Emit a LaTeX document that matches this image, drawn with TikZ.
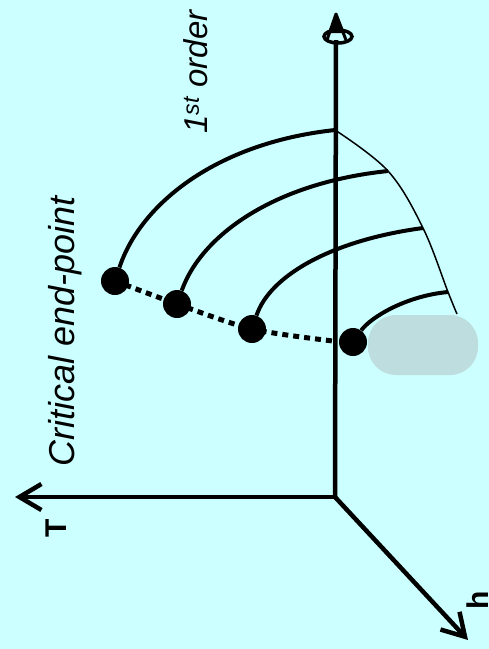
\documentclass[tikz,border=0pt]{standalone}
\usepackage{fontspec}
\setmainfont{Liberation Sans}
\usetikzlibrary{arrows.meta}
\definecolor{bgc}{RGB}{204,255,255}
\definecolor{blobc}{RGB}{189,221,222}
\begin{document}
\begin{tikzpicture}[x=1pt,y=-1pt,
  axisline/.style={line width=4.5pt, -{Straight Barb[length=22pt,width=26pt]}},
  zaxis/.style={line width=4.5pt},
  curveline/.style={line width=4pt},
  thinline/.style={line width=1.5pt},
  dotline/.style={line width=5pt, dash pattern=on 6pt off 5pt},
  cep/.style={circle, fill=black, draw=none, minimum size=28pt, inner sep=0pt},
  blob/.style={fill=blobc, draw=none, rounded corners=28pt, minimum width=110pt, minimum height=60pt, inner sep=0pt},
  lbl/.style={rotate=90, inner sep=0pt, anchor=center}]
\useasboundingbox (0,0) rectangle (489,649);
\fill[bgc] (0,0) rectangle (489,649);
% shaded region
\node[blob] (bl) at (423,345) {};
% points
\coordinate (O) at (335,497);
\coordinate (Ttip) at (15,497);
\coordinate (htip) at (468,640);
\coordinate (Ztop) at (336,40);
\coordinate (apex) at (336,14);
\coordinate (cone) at (338,36.5);
\coordinate (e1) at (335,130);
\coordinate (e2) at (388,171);
\coordinate (e3) at (423,228);
\coordinate (e4) at (448,292);
\coordinate (e5) at (457,314);
\coordinate (dend) at (333,341);
\node[cep] (d1) at (115,281) {};
\node[cep] (d2) at (177,304) {};
\node[cep] (d3) at (252,329) {};
\node[cep] (d4) at (353,342) {};
% axes
\draw[axisline] (O) -- (Ttip);
\draw[axisline] (O) -- (htip);
\draw[zaxis] (O) -- (Ztop);
\fill (apex) -- (328,33) -- (345,33) -- cycle;
\draw[line width=3pt, line join=round] (327,40) -- (apex) -- (346,40);
\draw[line width=3.5pt] (cone) ellipse [x radius=14, y radius=6.5];
% first-order lines
\draw[curveline] (d1) .. controls (140,205) and (215,143) .. (e1);
\draw[curveline] (d2) .. controls (201,236) and (273,183) .. (e2);
\draw[curveline] (d3) .. controls (270,275) and (333,240) .. (e3);
\draw[curveline] (d4) .. controls (370,318) and (405,296) .. (e4);
\draw[thinline] plot[smooth, tension=0.6] coordinates {(e1) (e2) (e3) (e4) (e5)};
% critical line
\draw[dotline] plot[smooth, tension=0.5] coordinates {(d1.center) (d2.center) (d3.center) (dend)};
% labels
\node[lbl, font=\fontsize{36}{40}\selectfont\itshape] (lc) at (65,331) {Critical end-point};
\node[lbl, font=\fontsize{33}{38}\selectfont\itshape] (lf) at (196,72) {1\textsuperscript{st} order};
\node[lbl, font=\fontsize{30}{36}\selectfont\bfseries] (lT) at (56,528) {T};
\node[lbl, font=\fontsize{30}{36}\selectfont\bfseries] (lh) at (478,600) {h};
\end{tikzpicture}
\end{document}
